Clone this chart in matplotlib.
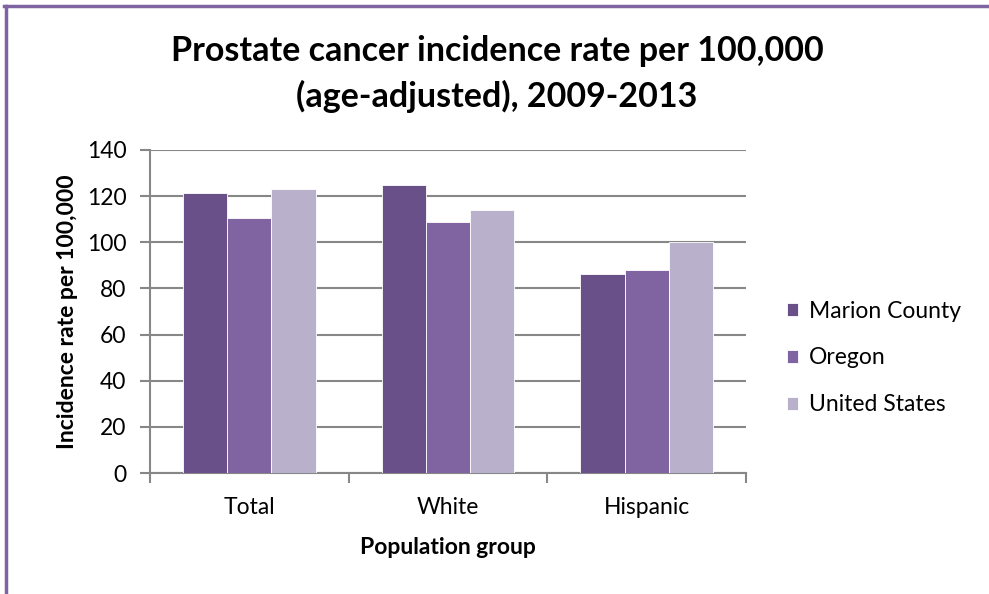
import matplotlib
matplotlib.use("Agg")
import matplotlib.pyplot as plt
import numpy as np
from matplotlib.lines import Line2D

categories = ["Total", "White", "Hispanic"]
series_names = ["Marion County", "Oregon", "United States"]
marion = [121.5, 125.0, 86.3]
oregon = [110.7, 109.0, 88.0]
us = [123.2, 114.2, 100.2]
colors = ["#6a5088", "#8064a2", "#b9b0cc"]
yticks = [0, 20, 40, 60, 80, 100, 120, 140]

plt.rcParams['font.family'] = ['Lato', 'DejaVu Sans']

fig = plt.figure(figsize=(9.89, 5.94), dpi=100)
ax = fig.add_axes([150/989, 1-473/594, (746-150)/989, (473-150)/594])

x = np.arange(len(categories))
width = 1/4.5
for i, (vals, name) in enumerate(zip([marion, oregon, us], series_names)):
    ax.bar(x + (i-1)*width, vals, width, color=colors[i], label=name,
           edgecolor="white", linewidth=0.6, zorder=3)

fs = 16.5
ax.set_xlim(-0.5, 2.5)
ax.set_ylim(0, 140)
ax.set_yticks(yticks)
ax.set_yticklabels([str(t) for t in yticks], fontsize=fs)
ax.yaxis.grid(True, color="#878787", linewidth=1.5, zorder=0)
ax.set_axisbelow(True)
ax.set_xticks(x)
ax.set_xticklabels(categories, fontsize=fs)
ax.tick_params(axis='x', length=0, pad=17)
ax.set_xticks([-0.5, 0.5, 1.5, 2.5], minor=True)
ax.tick_params(axis='x', which='minor', length=7, color="#878787", width=1.5)
ax.tick_params(axis='y', length=7, color="#878787", width=1.5, pad=10)
for s in ['top', 'right']:
    ax.spines[s].set_visible(False)
for s in ['left', 'bottom']:
    ax.spines[s].set_color("#878787")
    ax.spines[s].set_linewidth(1.5)

ax.set_xlabel("Population group", fontsize=fs, fontweight='bold', labelpad=14)
ax.set_ylabel("Incidence rate per 100,000", fontsize=fs, fontweight='bold', labelpad=6)

title_lines = ["Prostate cancer incidence rate per 100,000", "(age-adjusted), 2009-2013"]
for line, yy in zip(title_lines, [51, 96]):
    fig.text(497/989, 1-yy/594, line, fontsize=24.5, fontweight='bold',
             ha='center', va='center')

leg = ax.legend(loc='center left', bbox_to_anchor=(787/989, 1-358/594),
                bbox_transform=fig.transFigure, frameon=False, fontsize=fs,
                handlelength=0.5, handleheight=0.5, handletextpad=0.45,
                labelspacing=1.13, borderpad=0, borderaxespad=0)

fig.add_artist(Line2D([5.5/989, 5.5/989], [0, 1-5.5/594], transform=fig.transFigure,
                      color="#8064a2", linewidth=2.5))
fig.add_artist(Line2D([4/989, 1], [1-5.5/594, 1-5.5/594], transform=fig.transFigure,
                      color="#8064a2", linewidth=2.5))

fig.savefig("out.png", dpi=100)
